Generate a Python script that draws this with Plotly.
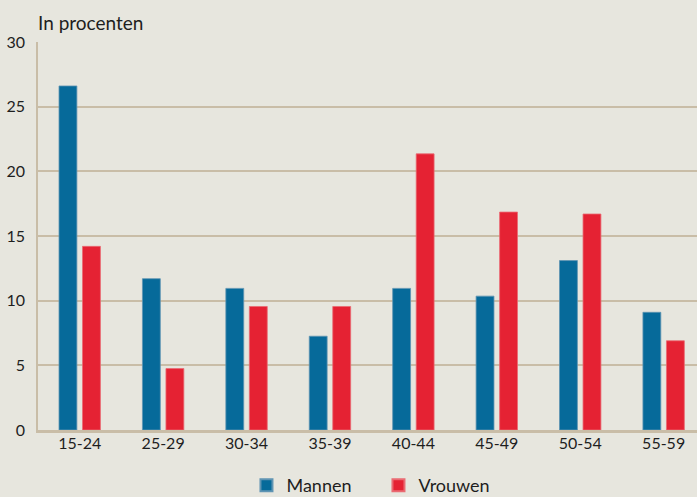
import plotly.graph_objects as go

categories = ["15-24", "25-29", "30-34", "35-39", "40-44", "45-49", "50-54", "55-59"]
mannen = [26.6, 11.7, 10.95, 7.25, 10.95, 10.35, 13.1, 9.1]
vrouwen = [14.2, 4.75, 9.55, 9.55, 21.35, 16.85, 16.7, 6.9]
y_ticks = [0, 5, 10, 15, 20, 25, 30]

BLUE = "#066a9a"
RED = "#e52233"
BG = "#e7e6de"
GRID = "#c9bda7"
TXT = "#1e1e1e"
FONT = "Lato"

fig = go.Figure()
fig.add_trace(go.Bar(x=categories, y=mannen, name="Mannen",
                     marker=dict(color=BLUE, line=dict(color="#5f94b3", width=0.8))))
fig.add_trace(go.Bar(x=categories, y=vrouwen, name="Vrouwen",
                     marker=dict(color=RED, line=dict(color="#ea6a72", width=0.8))))

fig.update_layout(
    width=697, height=497,
    paper_bgcolor=BG, plot_bgcolor=BG,
    margin=dict(l=38, r=0, t=42, b=67, autoexpand=False),
    barmode="group", bargap=0.436, bargroupgap=0.24,
    font=dict(family=FONT, color=TXT, size=16),
    showlegend=True,
    legend=dict(orientation="h", x=0.543, xanchor="center", xref="container",
                y=-0.143, yanchor="middle", yref="paper",
                font=dict(size=18, color=TXT), bgcolor="rgba(0,0,0,0)",
                entrywidth=87, itemsizing="constant", traceorder="normal"),
    annotations=[dict(text="In procenten", xref="paper", yref="paper", x=0, y=1,
                      xanchor="left", yanchor="bottom", yshift=6, xshift=-2,
                      showarrow=False, font=dict(size=19, color=TXT))],
)
fig.update_xaxes(range=[-0.5, 7.40], showgrid=False, showline=True, linecolor=GRID,
                 linewidth=2.5, ticks="", tickfont=dict(size=16, color=TXT),
                 ticklabelstandoff=-3, tickangle=0, automargin=False)
fig.update_yaxes(range=[0, 30], tickvals=y_ticks, showgrid=True, gridcolor=GRID,
                 gridwidth=1.5, showline=True, linecolor=GRID, linewidth=1.5,
                 zeroline=False, ticks="", tickfont=dict(size=16, color=TXT),
                 ticklabelstandoff=8, automargin=False)

fig.write_html("out.html", config={"displayModeBar": False},
               post_script="document.body.style.margin='0';document.body.style.overflow='hidden';")
